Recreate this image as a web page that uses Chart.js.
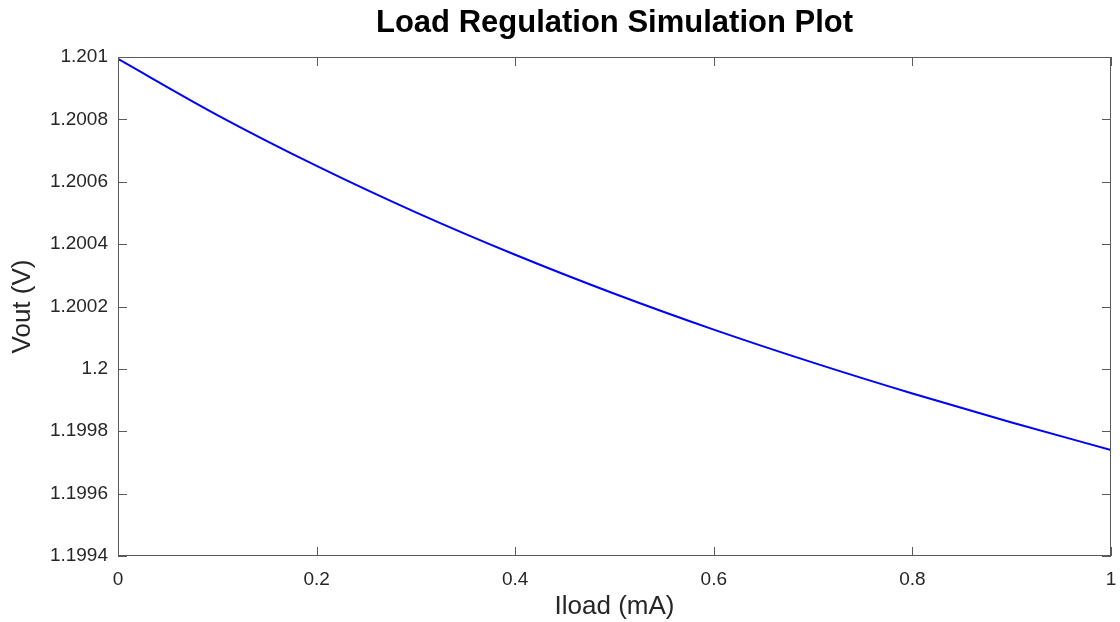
<!DOCTYPE html>
<html>
<head>
<meta charset="utf-8">
<script src="https://cdn.jsdelivr.net/npm/chart.js@4/dist/chart.umd.min.js"></script>
<style>
  html, body { margin: 0; padding: 0; background: #fff; }
  #wrap { width: 1120px; height: 622px; position: relative; }
</style>
</head>
<body>
<div id="wrap"><canvas id="plot"></canvas></div>
<script>
// load current (mA) and output voltage (V)
const iload = [0, 0.1, 0.2, 0.3, 0.4, 0.5, 0.6, 0.7, 0.8, 0.9, 1.0];
const vout  = [1.200994, 1.200814, 1.200651, 1.200502, 1.200366, 1.200241,
               1.200126, 1.200020, 1.199921, 1.199828, 1.199740];

const xTicks = [0, 0.2, 0.4, 0.6, 0.8, 1];
const yTicks = [1.1994, 1.1996, 1.1998, 1.2, 1.2002, 1.2004, 1.2006, 1.2008, 1.201];

const titleText = "Load Regulation Simulation Plot";
const xLabel = "Iload (mA)";
const yLabel = "Vout (V)";

const textColor = "#262626";
const frameColor = "#5a5a5a";
const fontFamily = "'Liberation Sans', Arial, Helvetica, sans-serif";

// frame around the plot, inward ticks on all four sides, and title over the plot area
const framePlugin = {
  id: "frame",
  afterDraw(chart) {
    const { ctx, chartArea: a, scales } = chart;
    const len = 9;
    ctx.save();
    ctx.strokeStyle = frameColor;
    ctx.lineWidth = 1;
    ctx.strokeRect(a.left + 0.5, a.top + 0.5, a.right - a.left - 1, a.bottom - a.top - 1);
    ctx.beginPath();
    xTicks.forEach(v => {
      const px = Math.round(scales.x.getPixelForValue(v)) + 0.5;
      ctx.moveTo(px, a.bottom); ctx.lineTo(px, a.bottom - len);
      ctx.moveTo(px, a.top); ctx.lineTo(px, a.top + len);
    });
    yTicks.forEach(v => {
      const py = Math.round(scales.y.getPixelForValue(v)) + 0.5;
      ctx.moveTo(a.left, py); ctx.lineTo(a.left + len, py);
      ctx.moveTo(a.right, py); ctx.lineTo(a.right - len, py);
    });
    ctx.stroke();

    ctx.fillStyle = "#000";
    ctx.font = "bold 31px " + fontFamily;
    ctx.textAlign = "center";
    ctx.textBaseline = "alphabetic";
    ctx.fillText(titleText, (a.left + a.right) / 2, 32);
    ctx.restore();
  }
};

const fmt = v => String(Number(Number(v).toFixed(4)));

new Chart(document.getElementById("plot"), {
  type: "line",
  data: {
    datasets: [{
      data: iload.map((x, i) => ({ x: x, y: vout[i] })),
      borderColor: "#0000ff",
      borderWidth: 2,
      pointRadius: 0,
      fill: false,
      cubicInterpolationMode: "monotone"
    }]
  },
  options: {
    responsive: true,
    maintainAspectRatio: false,
    animation: false,
    layout: { padding: { left: 0, right: 9, top: 57, bottom: 0 } },
    plugins: {
      legend: { display: false },
      tooltip: { enabled: false },
      title: { display: false }
    },
    scales: {
      x: {
        type: "linear",
        min: 0, max: 1,
        afterBuildTicks: s => { s.ticks = xTicks.map(v => ({ value: v })); },
        afterFit: s => { s.height = 66; s.paddingLeft = 0; s.paddingRight = 0; },
        grid: { display: false, drawTicks: false },
        border: { display: false },
        ticks: {
          color: textColor, padding: 12,
          font: { family: fontFamily, size: 19 },
          maxRotation: 0,
          callback: fmt
        },
        title: {
          display: true, text: xLabel, color: textColor,
          font: { family: fontFamily, size: 26 },
          padding: { top: 0, bottom: 0 }
        }
      },
      y: {
        type: "linear",
        min: 1.1994, max: 1.201,
        afterBuildTicks: s => { s.ticks = yTicks.map(v => ({ value: v })); },
        afterFit: s => { s.width = 118; s.paddingTop = 0; s.paddingBottom = 0; },
        grid: { display: false, drawTicks: false },
        border: { display: false },
        ticks: {
          color: textColor, padding: 10,
          font: { family: fontFamily, size: 19 },
          callback: fmt
        },
        title: {
          display: true, text: yLabel, color: textColor,
          font: { family: fontFamily, size: 26 },
          padding: { top: 7, bottom: 0 }
        }
      }
    }
  },
  plugins: [framePlugin]
});
</script>
</body>
</html>
